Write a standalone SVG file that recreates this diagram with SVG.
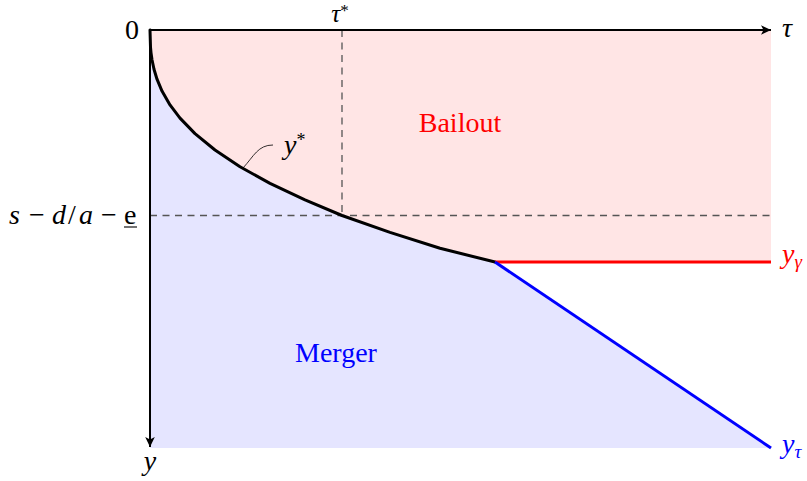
<svg xmlns="http://www.w3.org/2000/svg" width="807" height="481" viewBox="0 0 807 481">
<style>
text{font-family:"Liberation Serif","Times New Roman",serif;font-size:28px;fill:#000}
.it{font-style:italic}
.sup{font-size:18px;font-style:normal}
.sub{font-size:19px}
.dash{stroke:#555;stroke-width:1.3;stroke-dasharray:7 5.5;fill:none}
.axis{stroke:#000;stroke-width:2;fill:none}
</style>
<defs>
<marker id="arr" markerUnits="userSpaceOnUse" markerWidth="14" markerHeight="14" viewBox="-11 -7 14 14" refX="0" refY="0" orient="auto">
<path d="M-10,-4.8 L0,0 L-10,4.8 L-7.5,0 Z" fill="#000"/>
</marker>
</defs>
<g id="regions">
<path id="bailout-region" fill="#ffe5e5" d="M150,30 L771,30 L771,262 L495,262 L440,248.3 L390,232.4 L342,215.5 L305,199.9 L270,183.4 L240,166.7 L215,150 L195,133.6 L180,118.1 L170,104.9 L162,91.1 L157,79.2 L154,69.3 L152,59.8 L151,52.6 L150.5,47.1 Z"/>
<path id="merger-region" fill="#e5e5ff" d="M150,30 L150.5,47.1 L151,52.6 L152,59.8 L154,69.3 L157,79.2 L162,91.1 L170,104.9 L180,118.1 L195,133.6 L215,150 L240,166.7 L270,183.4 L305,199.9 L342,215.5 L390,232.4 L440,248.3 L495,262 L771,448 L150,448 Z"/>
</g>
<g id="connectors">
<line class="dash" x1="342" y1="30" x2="342" y2="215.5"/>
<line class="dash" x1="150" y1="215.5" x2="771" y2="215.5"/>
<polyline id="ystar-curve" fill="none" stroke="#000" stroke-width="3" stroke-linejoin="round" stroke-linecap="round" points="150,30 150.5,47.1 151,52.6 152,59.8 154,69.3 157,79.2 162,91.1 170,104.9 180,118.1 195,133.6 215,150 240,166.7 270,183.4 305,199.9 342,215.5 390,232.4 440,248.3 495,262"/>
<line id="ygamma-line" x1="495" y1="262" x2="771" y2="262" stroke="#ff0000" stroke-width="3"/>
<line id="ytau-line" x1="495" y1="262" x2="771" y2="448" stroke="#0000ff" stroke-width="3"/>
<path id="pin" d="M243,168 C254,156 258,145 273,145" fill="none" stroke="#000" stroke-width="0.8"/>
<line class="axis" x1="150" y1="30" x2="771" y2="30" marker-end="url(#arr)"/>
<line class="axis" x1="150" y1="30" x2="150" y2="447" marker-end="url(#arr)"/>
<line x1="150" y1="29" x2="150" y2="31" stroke="#000" stroke-width="2"/>
</g>
<g id="labels">
<text x="139" y="38.5" text-anchor="end">0</text>
<text id="tau-label" x="782" y="37" class="it">τ</text>
<text id="taustar-label" x="340" y="22" text-anchor="middle" style="font-size:25px"><tspan class="it">τ</tspan><tspan class="sup" style="font-size:17px" dy="-6">*</tspan></text>
<text id="y-label" x="150" y="470" text-anchor="middle" class="it">y</text>
<text id="ystar-label" x="284" y="154"><tspan class="it">y</tspan><tspan class="sup" dy="-8">*</tspan></text>
<text id="threshold-label" y="223.5"><tspan class="it" x="9">s</tspan><tspan x="29">−</tspan><tspan class="it" x="52">d</tspan><tspan x="68">/</tspan><tspan class="it" x="79">a</tspan><tspan x="101">−</tspan><tspan x="124">e</tspan></text>
<line x1="124" y1="227" x2="137" y2="227" stroke="#000" stroke-width="1.1"/>
<text id="bailout" x="460" y="132" text-anchor="middle" style="fill:#ff0000">Bailout</text>
<text id="merger" x="336" y="362" text-anchor="middle" style="fill:#0000ff">Merger</text>
<text id="ygamma-label" x="782" y="263" style="fill:#ff0000"><tspan class="it">y</tspan><tspan class="it sub" dy="5">γ</tspan></text>
<text id="ytau-label" x="782" y="453" style="fill:#0000ff"><tspan class="it">y</tspan><tspan class="it sub" dy="5">τ</tspan></text>
</g>
</svg>
